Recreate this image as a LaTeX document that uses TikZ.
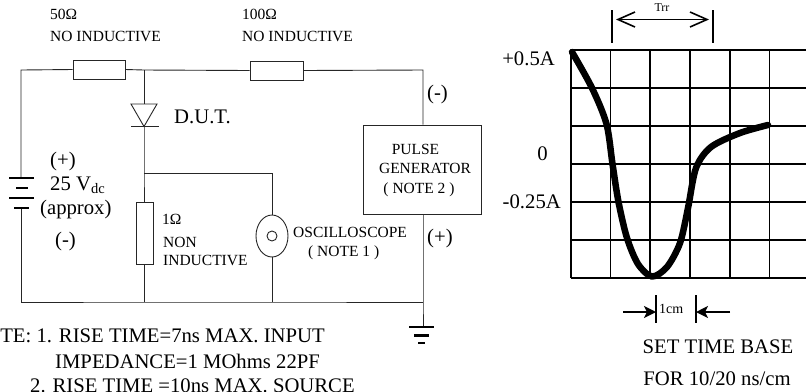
\documentclass[tikz,border=0pt]{standalone}
\usepackage{fontspec}
\setmainfont{Liberation Serif}
\usetikzlibrary{arrows.meta,shapes.geometric}
\newcommand{\fsS}{\fontsize{15.5bp}{18bp}\selectfont}
\newcommand{\fsL}{\fontsize{20.7bp}{24bp}\selectfont}
\newcommand{\fsT}{\fontsize{12bp}{14bp}\selectfont}
\begin{document}
\begin{tikzpicture}[x=1bp,y=-1bp,
  wire/.style={line width=0.9bp, draw=black!85},
  resbox/.style={draw=black!85, line width=0.9bp, fill=white, inner sep=0pt},
  lbl/.style={inner sep=0pt, anchor=base west},
  grid line/.style={line width=1.6bp, draw=black},
  heavy/.style={line width=1.8bp, draw=black},
  plate/.style={line width=2.2bp, draw=black}]
\useasboundingbox (0,0) rectangle (806,391);
\clip (0,0) rectangle (806,391);
\fill[white] (0,0) rectangle (806,391);

% ---------- circuit coordinates ----------
\coordinate (tl) at (21,70);
\coordinate (j1) at (144,70);
\coordinate (tr) at (423,70);
\coordinate (j2) at (144,173);
\coordinate (ot) at (272,173);
\coordinate (bl) at (21,302);
\coordinate (j3) at (144,302);
\coordinate (j4) at (272,302);
\coordinate (j5) at (423,302);
\coordinate (gnd) at (423,327);
\coordinate (battop) at (21,178);
\coordinate (batbot) at (21,208);
\coordinate (dA) at (144,104);
\coordinate (dK) at (144,126.5);

% ---------- components ----------
\node[resbox, minimum width=52bp, minimum height=19bp] (r1) at (99,69.5) {};
\node[resbox, minimum width=53bp, minimum height=19bp] (r2) at (276.5,70.5) {};
\node[resbox, minimum width=17bp, minimum height=62bp] (r3) at (144.5,233) {};
\node[resbox, minimum width=118bp, minimum height=89bp] (pg) at (422,169.5) {};
\node[draw=black!85, line width=0.9bp, ellipse, minimum width=32bp, minimum height=42bp, inner sep=0pt] (osc) at (272,236) {};
\node[draw=black!85, line width=0.9bp, circle, minimum size=10bp, inner sep=0pt] (osci) at (osc.center) {};

% ---------- wires ----------
\draw[wire] (battop) -- (tl) -- (r1.west);
\draw[wire] (r1.east) -- (j1) -- (r2.west);
\draw[wire] (r2.east) -- (tr) -- (pg.north -| tr);
\draw[wire] (j1) -- (dA);
\draw[wire] (dK) -- (j2) -- (r3.north -| j2);
\draw[wire] (j2) -- (ot) -- (osc.north);
\draw[wire] (osc.south) -- (j4);
\draw[wire] (r3.south -| j3) -- (j3);
\draw[wire] (batbot) -- (bl) -- (j3) -- (j4) -- (j5);
\draw[wire] (pg.south -| j5) -- (j5) -- (gnd);

% diode
\draw[wire, fill=white] (131,104) -- (157,104) -- (dK) -- cycle;
\draw[wire] (131,126.5) -- (159,126.5);

% battery
\draw[plate] (9,178) -- (34,178);
\draw[plate] (16,188) -- (28,188);
\draw[plate] (9,198) -- (34,198);
\draw[plate] (14,208) -- (29,208);

% ground
\draw[plate] (409,327) -- (434,327);
\draw[plate] (414,335.5) -- (429,335.5);
\draw[plate] (418,343) -- (425,343);

% ---------- circuit labels ----------
\node[lbl] (t50) at (50,19) {\fsS 50Ω};
\node[lbl] (tni1) at (50,41.5) {\fsS NO INDUCTIVE};
\node[lbl] (t100) at (242,19) {\fsS 100Ω};
\node[lbl] (tni2) at (242,41.5) {\fsS NO INDUCTIVE};
\node[lbl] (tdut) at (174,123) {\fsL D.U.T.};
\node[lbl] (tbp) at (50,166) {\fsL (+)};
\node[lbl] (tbv) at (50,190) {\fsL 25 V\textsubscript{dc}};
\node[lbl] (tba) at (40,214) {\fsL (approx)};
\node[lbl] (tbm) at (55,246) {\fsL (-)};
\node[lbl] (t1o) at (162,224) {\fsS 1Ω};
\node[lbl] (tnon) at (163,247) {\fsS NON};
\node[lbl] (tind) at (163,265) {\fsS INDUCTIVE};
\node[lbl] (tosc) at (293,237) {\fsS OSCILLOSCOPE};
\node[lbl] (tn1) at (308,256) {\fsS ( NOTE 1 )};
\node[lbl] (tpm) at (427,99) {\fsL (-)};
\node[lbl] (tpp) at (427,243) {\fsL (+)};
\node[inner sep=0pt, anchor=base] (tpu) at (415.5,154) {\fsS PULSE};
\node[inner sep=0pt, anchor=base] (tge) at (425,173) {\fsS GENERATOR};
\node[inner sep=0pt, anchor=base] (tn2) at (419,193) {\fsS ( NOTE 2 )};

% notes
\node[inner sep=0pt, anchor=base east] (nt1) at (325,342) {\fsL NOTE: 1. RISE TIME=7ns MAX. INPUT};
\node[lbl] (nt2) at (55,368) {\fsL IMPEDANCE=1 MOhms 22PF};
\node[lbl] (nt3) at (30,392) {\fsL 2. RISE TIME =10ns MAX. SOURCE};

% ---------- oscillogram ----------
\foreach \yy in {50,88,126,164,202,240,278} \draw[grid line] (571,\yy) -- (812,\yy);
\foreach \xx in {571,610.5,650,690,730,769.5,809} \draw[grid line] (\xx,50) -- (\xx,278);

\draw[line width=6.5bp, line cap=round, line join=round] plot[smooth, tension=0.5] coordinates {
 (572,52) (592,88) (606.5,124) (612.5,164) (618.5,202) (627,238) (638,264) (652,276.5) (667,267) (680,243) (688,208) (696,168) (711,147) (740,133) (768,125)};

\node[inner sep=0pt, anchor=base east] (ya) at (555,65) {\fsL +0.5A};
\node[inner sep=0pt, anchor=base east] (yb) at (548,160) {\fsL 0};
\node[inner sep=0pt, anchor=base east] (yc) at (561,208) {\fsL -0.25A};

% Trr
\coordinate (trA) at (612,10);
\coordinate (trB) at (713,10);
\draw[heavy] (trA) -- ++(0,33);
\draw[heavy] (trB) -- ++(0,33);
\draw[line width=1.6bp, {Straight Barb[length=17bp,width=15bp]}-{Straight Barb[length=17bp,width=15bp]}] (616,19.5) -- (709,19.5);
\node[inner sep=0pt, anchor=base] (ttrr) at (662,11) {\fsT Trr};

% 1cm
\coordinate (cmA) at (656,295);
\coordinate (cmB) at (696,295);
\draw[heavy] (cmA) -- ++(0,28);
\draw[heavy] (cmB) -- ++(0,28);
\draw[line width=2bp, -{Stealth[length=12bp,width=12bp,inset=3bp]}] (623,312) -- (cmA |- 0,312);
\draw[line width=2bp, -{Stealth[length=12bp,width=12bp,inset=3bp]}] (730,312) -- (cmB |- 0,312);
\node[lbl] (tcm) at (659,313) {\fontsize{14bp}{16bp}\selectfont 1cm};

\node[inner sep=0pt, anchor=base] (tset) at (718,353) {\fsL SET TIME BASE};
\node[inner sep=0pt, anchor=base] (tfor) at (717,385) {\fsL FOR 10/20 ns/cm};
\end{tikzpicture}
\end{document}
